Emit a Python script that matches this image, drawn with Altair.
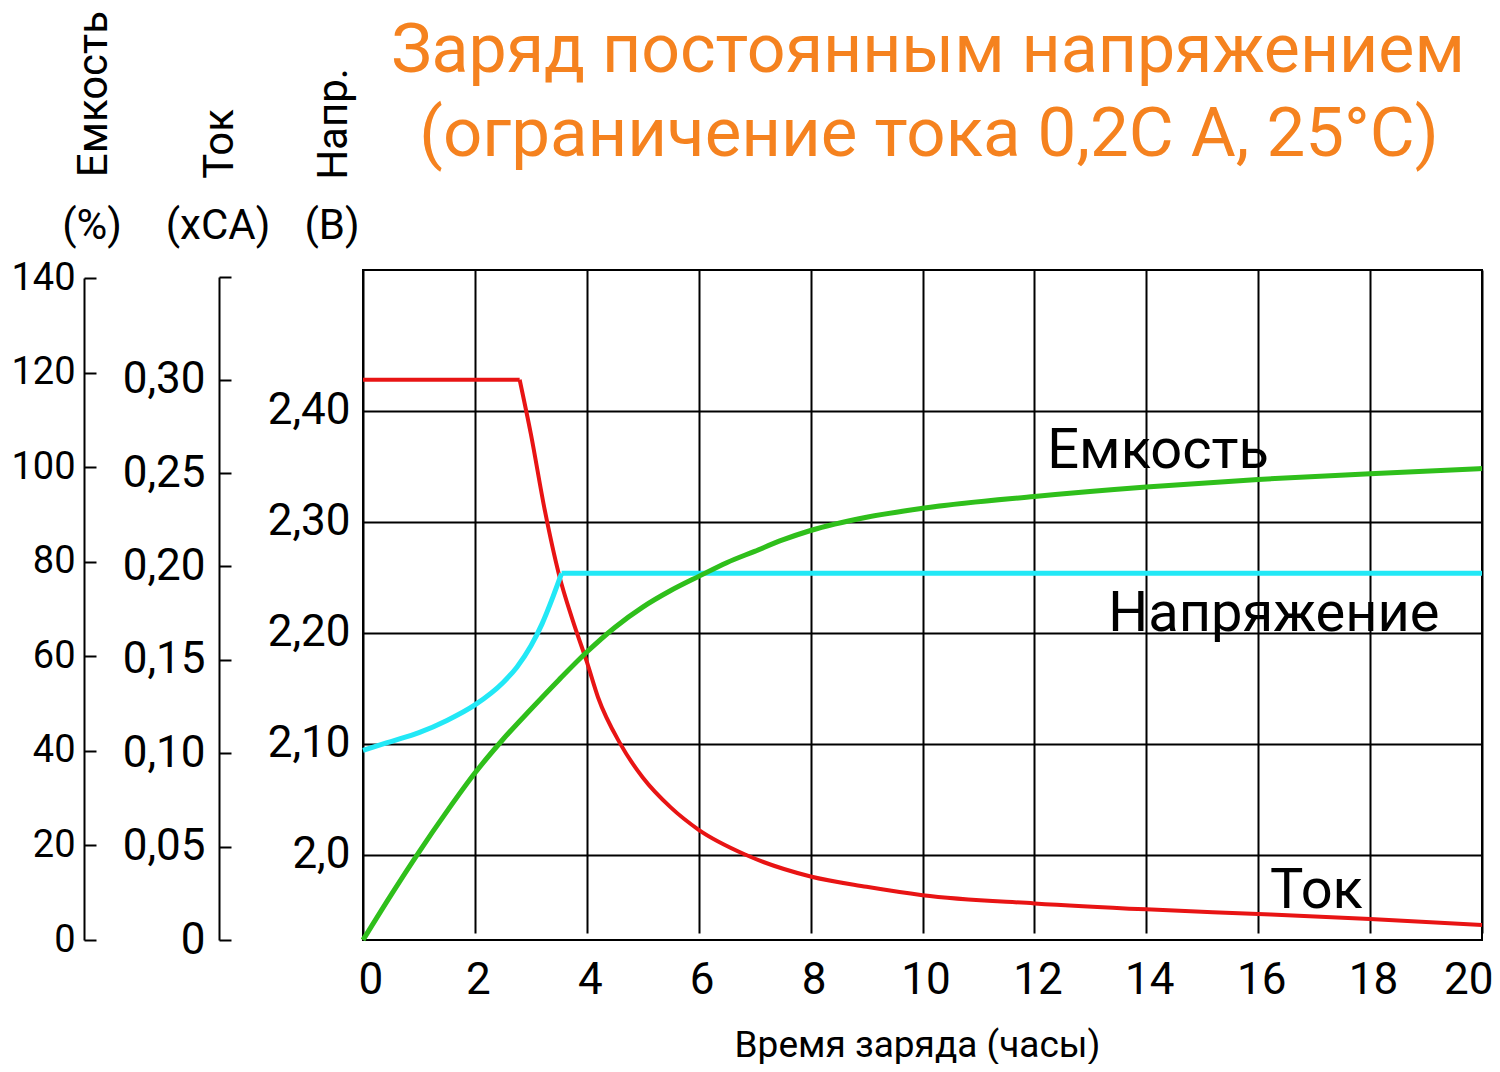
import altair as alt
import pandas as pd

# ---------------- text ----------------
TITLE_LINE1 = "Заряд постоянным напряжением"
TITLE_LINE2 = "(ограничение тока 0,2C A, 25°C)"
X_TITLE = "Время заряда (часы)"
AXIS_NAMES = ["Емкость", "Ток", "Напр."]
AXIS_UNITS = ["(%)", "(xCA)", "(В)"]
SERIES_LABELS = ["Емкость", "Напряжение", "Ток"]

# ---------------- ticks ----------------
X_TICKS = [0, 2, 4, 6, 8, 10, 12, 14, 16, 18, 20]
CAP_TICKS = [0, 20, 40, 60, 80, 100, 120, 140]
CUR_TICKS = [0, 0.05, 0.10, 0.15, 0.20, 0.25, 0.30]
VOL_TICKS = [2.0, 2.1, 2.2, 2.3, 2.4]

# ---------------- series ----------------
CAP_T = [0, 0.5, 1, 1.5, 2, 2.5, 3, 3.5, 4, 4.5, 5, 5.5, 6, 6.5, 7, 7.5, 8, 9, 10,
         12, 14, 16, 18, 20]
CAP_V = [0, 9.5, 18.6, 27.2, 35.3, 42.4, 48.8, 55.0, 60.9, 66.1, 70.4, 73.9, 76.9, 79.8,
         82.2, 84.6, 86.6, 89.4, 91.3, 93.8, 95.8, 97.4, 98.6, 99.7]

CUR_T = [0, 2.8, 3.0, 3.25, 3.5, 3.75, 4.0, 4.2, 4.6, 5.0, 5.5, 6.0, 6.85, 8.0, 9.0, 10,
         12, 14, 16, 18, 20]
CUR_V = [0.300, 0.300, 0.271, 0.230, 0.196, 0.171, 0.149, 0.130, 0.105, 0.087, 0.071,
         0.059, 0.0455, 0.034, 0.0285, 0.024, 0.0196, 0.0164, 0.0139, 0.0112, 0.008]

VOL_T = [0, 0.5, 1.0, 1.5, 2.0, 2.5, 2.75, 3.0, 3.2, 3.4, 3.55, 20]
VOL_V = [2.094, 2.102, 2.110, 2.121, 2.135, 2.155, 2.169, 2.188, 2.208, 2.233, 2.2535, 2.2535]

CUR_KNEE = 1    # index where the constant-current part ends
VOL_KNEE = 10   # index where the voltage reaches its limit

# ---------------- style ----------------
NUM_FONT = "Roboto, sans-serif"
TEXT_FONT = "Roboto, sans-serif"
ORANGE = "#f5821f"
RED = "#e81414"
GREEN = "#2fbf1b"
CYAN = "#22e8f6"

W, H = 1119, 670


def series_df(ts, vs, knee=None):
    rows = []
    if knee is None:
        for t, v in zip(ts, vs):
            rows.append({"t": t, "val": v, "part": "a"})
    else:
        for i in range(knee + 1):
            rows.append({"t": ts[i], "val": vs[i], "part": "a"})
        for i in range(knee, len(ts)):
            rows.append({"t": ts[i], "val": vs[i], "part": "b"})
    return pd.DataFrame(rows)


x_scale = alt.Scale(domain=[0, 20], nice=False, zero=False)
x_axis = alt.Axis(
    values=X_TICKS, grid=True, gridColor="black", gridWidth=2, domain=False,
    ticks=False, labelPadding=18, labelFontSize=44, labelFont=NUM_FONT,
    labelColor="black", labelFlush=True, labelFlushOffset=8, labelOverlap=False,
    labelOffset=3,
    title=X_TITLE, titleFont=TEXT_FONT, titleFontSize=37, titleFontWeight="normal",
    titleColor="black", titleX=554, titleY=116, titleBaseline="alphabetic",
    titleAlign="center", titleAngle=0,
)
x_enc = alt.X("t:Q", scale=x_scale, axis=x_axis)


def cap_scale():
    return alt.Scale(domain=[0, 140], range=[H, 8], nice=False, zero=False)


CUR_MAX = 0.355


def cur_scale():
    return alt.Scale(domain=[0, CUR_MAX], range=[H, 7], nice=False, zero=False)


def vol_scale():
    return alt.Scale(domain=[1.9232, 2.5268], range=[H, 0], nice=False, zero=False)


cap_axis = alt.Axis(
    orient="right", offset=-(W + 279), values=CAP_TICKS, grid=False,
    domain=True, domainColor="black", domainWidth=2,
    ticks=True, tickSize=12, tickColor="black", tickWidth=2,
    labelAlign="right", labelBaseline="middle", labelPadding=-21,
    labelFontSize=38, labelFont=NUM_FONT, labelColor="black", labelOverlap=False,
    title=None,
)
cur_axis = alt.Axis(
    orient="right", offset=-(W + 144), values=CUR_TICKS + [CUR_MAX], grid=False,
    domain=True, domainColor="black", domainWidth=2,
    ticks=True, tickSize=12, tickColor="black", tickWidth=2,
    labelAlign="right", labelBaseline="middle", labelPadding=-26,
    labelFontSize=44, labelFont=NUM_FONT, labelColor="black", labelOverlap=False,
    labelExpr="datum.value > 0.33 ? '' : (datum.value == 0 ? '0' : replace(format(datum.value, '.2f'), '.', ','))",
    title=None,
)
vol_axis = alt.Axis(
    orient="left", offset=0, values=VOL_TICKS, grid=True, gridColor="black",
    gridWidth=2, domain=False, ticks=False, labelPadding=13,
    labelAlign="right", labelBaseline="middle",
    labelFontSize=44, labelFont=NUM_FONT, labelColor="black", labelOverlap=False,
    labelExpr="datum.value < 2.05 ? '2,0' : replace(format(datum.value, '.2f'), '.', ',')",
    title=None,
)


def series_line(df, color, width, scale, axis):
    return alt.Chart(df).mark_line(
        color=color, strokeWidth=width, interpolate="monotone"
    ).encode(
        x=x_enc,
        y=alt.Y("val:Q", scale=scale, axis=axis),
        detail="part:N",
    )


def series_label(label, lx, ly, scale):
    # placed in the series' own units, through a scale identical to the series scale
    return alt.Chart(pd.DataFrame({"label": [label], "t": [lx], "val": [ly]})).mark_text(
        align="left", baseline="alphabetic", fontSize=56, font=TEXT_FONT, color="black"
    ).encode(
        x=x_enc,
        y=alt.Y("val:Q", scale=scale, axis=None),
        text="label:N",
    )


cur_line = series_line(series_df(CUR_T, CUR_V, CUR_KNEE), RED, 4, cur_scale(), cur_axis)
vol_line = series_line(series_df(VOL_T, VOL_V, VOL_KNEE), CYAN, 5, vol_scale(), vol_axis)
cap_line = series_line(series_df(CAP_T, CAP_V), GREEN, 5, cap_scale(), cap_axis)

cur_lab = series_label(SERIES_LABELS[2], 16.21, 0.01695, cur_scale())
vol_lab = series_label(SERIES_LABELS[1], 13.32, 2.2018, vol_scale())
cap_lab = series_label(SERIES_LABELS[0], 12.23, 99.8, cap_scale())


def free_text(txt, x, y, size, color="black", angle=0):
    kw = dict(align="center", baseline="alphabetic", fontSize=size, font=TEXT_FONT,
              color=color)
    if angle:
        kw["angle"] = angle
    return alt.Chart(pd.DataFrame({"label": [txt]})).mark_text(**kw).encode(
        x=alt.value(x), y=alt.value(y), text="label:N"
    )


texts = [
    free_text(TITLE_LINE1, 565, -198, 68, ORANGE),
    free_text(TITLE_LINE2, 566, -114, 69, ORANGE),
    free_text(AXIS_NAMES[0], -256, -176, 42, angle=270),
    free_text(AXIS_NAMES[1], -130, -126, 42, angle=270),
    free_text(AXIS_NAMES[2], -16, -146, 42, angle=270),
    free_text(AXIS_UNITS[0], -271, -31, 42),
    free_text(AXIS_UNITS[1], -145, -31, 42),
    free_text(AXIS_UNITS[2], -31, -31, 42),
]

chart = alt.layer(
    cur_line, vol_line, cap_line, cur_lab, vol_lab, cap_lab, *texts
).resolve_scale(
    y="independent"
).properties(
    width=W,
    height=H,
    autosize=alt.AutoSizeParams(type="none"),
    padding={"left": 355, "top": 262, "right": 10, "bottom": 124},
    background="white",
).configure_view(stroke="black", strokeWidth=2)

chart.save("out.html", embed_options={"renderer": "svg", "actions": False})
